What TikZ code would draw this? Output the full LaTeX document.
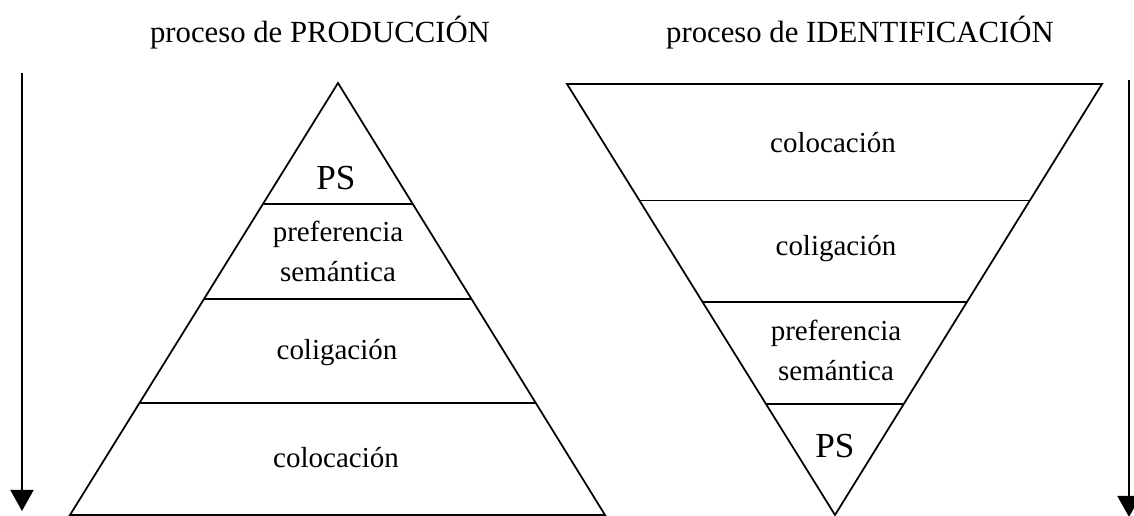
\documentclass[tikz,border=0pt]{standalone}
\usepackage{fontspec}
\setmainfont{Liberation Serif}
\usetikzlibrary{arrows.meta,calc}
\begin{document}
\begin{tikzpicture}[x=0.02cm,y=-0.02cm,
  lbl/.style={align=center,font=\fontsize{16.5}{22.7}\selectfont,inner sep=0pt},
  ttl/.style={lbl,font=\fontsize{17.5}{21}\selectfont},
  big/.style={lbl,font=\fontsize{20}{24}\selectfont},
  edge/.style={line width=1pt},
  sep/.style={line width=0.8pt},
  down/.style={-{Triangle[width=0.46cm,length=0.42cm]},line width=1pt}]
\useasboundingbox (0,0) rectangle (1134,516);
% titulos
\node[ttl] (prod) at (320,33) {proceso de PRODUCCIÓN};
\node[ttl] (ident) at (860,33) {proceso de IDENTIFICACIÓN};
% flechas
\coordinate (la) at (22,73);
\coordinate (lb) at (22,511);
\coordinate (ra) at (1129,80);
\coordinate (rb) at (1129,517);
\draw[down](la)--(lb);
\draw[down](ra)--(rb);
% piramide
\coordinate (pa) at (338,83);
\coordinate (pl) at (70,515);
\coordinate (pr) at (605,515);
\draw[edge](pl)--(pa)--(pr)--cycle;
\foreach \t in {0.28,0.5,0.741}
  \draw[sep]($(pa)!\t!(pl)$)--($(pa)!\t!(pr)$);
\node[big] (ps1) at (336,178) {PS};
\node[lbl] (sem1) at (338,251) {preferencia\\semántica};
\node[lbl] (col1) at (337,353) {coligación};
\node[lbl] (loc1) at (336,458) {colocación};
% piramide invertida
\coordinate (ia) at (835,515);
\coordinate (il) at (567,84);
\coordinate (ir) at (1102,84);
\draw[edge](il)--(ir)--(ia)--cycle;
\foreach \t in {0.258,0.494,0.729}
  \draw[sep]($(ia)!\t!(il)$)--($(ia)!\t!(ir)$);
\node[lbl] (loc2) at (833,143) {colocación};
\node[lbl] (col2) at (836,249) {coligación};
\node[lbl] (sem2) at (836,350) {preferencia\\semántica};
\node[big] (ps2) at (835,446) {PS};
\end{tikzpicture}
\end{document}
